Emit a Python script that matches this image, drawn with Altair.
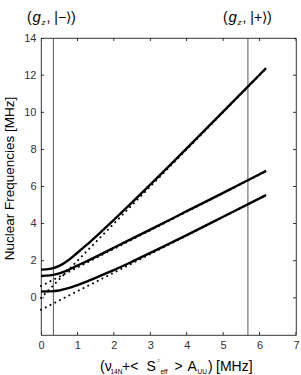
import altair as alt
import pandas as pd

# ---------------- data ----------------
x_vals = [0.0, 0.25, 0.5, 0.75, 1.0, 1.25, 1.5, 1.75, 2.0, 2.5, 3.0, 3.5, 4.0, 5.0, 6.0, 6.18]
upper_solid = [1.52, 1.56, 1.72, 2.03, 2.43, 2.85, 3.29, 3.74, 4.20, 5.14, 6.10, 7.07, 8.05, 10.03, 12.02, 12.38]
middle_solid = [1.18, 1.21, 1.32, 1.51, 1.74, 1.97, 2.21, 2.45, 2.70, 3.19, 3.68, 4.17, 4.67, 5.66, 6.66, 6.84]
lower_solid = [0.34, 0.35, 0.40, 0.52, 0.69, 0.88, 1.08, 1.29, 1.50, 1.95, 2.42, 2.90, 3.38, 4.37, 5.36, 5.54]

dot_x = [0.0, 6.18]
upper_dotted = [0.0, 12.36]
middle_dotted = [0.64, 6.82]
lower_dotted = [-0.64, 5.54]

marker_x = [0.34, 5.68]
marker_labels = ["|−⟩)", "|+⟩)"]

x_ticks = [0, 1, 2, 3, 4, 5, 6, 7]
y_ticks = [0, 2, 4, 6, 8, 10, 12, 14]
x_domain = [0, 7]
y_domain = [-2, 14]

y_title = "Nuclear Frequencies [MHz]"

# ---------------- layout ----------------
W, H = 255, 297
PL, PT, PR, PB = 41, 38, 5, 40
FONT = "Liberation Sans"

xs = alt.Scale(domain=x_domain, nice=False, zero=False)
ys = alt.Scale(domain=y_domain, nice=False, zero=False)

x_axis = alt.Axis(values=x_ticks, title=None, grid=False, ticks=False, domain=False,
                  labelFont=FONT, labelFontSize=11, labelColor="#333", labelPadding=4,
                  labelFlush=False)
y_axis = alt.Axis(values=y_ticks, title=None, grid=False, ticks=False, domain=False,
                  labelFont=FONT, labelFontSize=11, labelColor="#333", labelPadding=5,
                  labelFlush=False)


def X(field):
    return alt.X(field, scale=xs, axis=x_axis)


def Y(field):
    return alt.Y(field, scale=ys, axis=y_axis)


solid_df = pd.DataFrame({
    "x": x_vals * 3,
    "y": upper_solid + middle_solid + lower_solid,
    "curve": ["upper"] * len(x_vals) + ["middle"] * len(x_vals) + ["lower"] * len(x_vals),
})
dotted_df = pd.DataFrame({
    "x": dot_x * 3,
    "y": upper_dotted + middle_dotted + lower_dotted,
    "curve": ["upper"] * 2 + ["middle"] * 2 + ["lower"] * 2,
})

base_axes = alt.Chart(pd.DataFrame({"x": [x_domain[0]], "y": [y_domain[0]]})).mark_point(
    opacity=0
).encode(x=X("x:Q"), y=Y("y:Q"))

markers = alt.Chart(pd.DataFrame({"x": marker_x})).mark_rule(
    color="#444", strokeWidth=0.9
).encode(x=X("x:Q"))

dotted = alt.Chart(dotted_df).mark_line(
    color="black", strokeWidth=2.0, strokeDash=[0.1, 5.2], strokeCap="round"
).encode(x=X("x:Q"), y=Y("y:Q"), detail="curve:N")

solid = alt.Chart(solid_df).mark_line(
    color="black", strokeWidth=2.4, interpolate="monotone"
).encode(x=X("x:Q"), y=Y("y:Q"), detail="curve:N")

# inward ticks (MATLAB style) on all four sides, clipped to the box
xt_df = pd.DataFrame({"x": x_ticks, "lo": [y_domain[0]] * len(x_ticks), "hi": [y_domain[1]] * len(x_ticks)})
yt_df = pd.DataFrame({"y": y_ticks, "lo": [x_domain[0]] * len(y_ticks), "hi": [x_domain[1]] * len(y_ticks)})
tick_layers = []
for col in ["lo", "hi"]:
    tick_layers.append(alt.Chart(xt_df).mark_tick(
        orient="vertical", size=6, thickness=0.8, color="black", clip=True, opacity=1
    ).encode(x=X("x:Q"), y=Y(f"{col}:Q")))
    tick_layers.append(alt.Chart(yt_df).mark_tick(
        orient="horizontal", size=6, thickness=0.8, color="black", clip=True, opacity=1
    ).encode(y=Y("y:Q"), x=X(f"{col}:Q")))


def txt(s, px, py, size, style="normal", color="black", angle=0, align="left", baseline="alphabetic"):
    kw = dict(font=FONT, fontSize=size, fontStyle=style, color=color, align=align, baseline=baseline)
    if angle:
        kw["angle"] = angle
    return alt.Chart(pd.DataFrame({"t": [s]})).mark_text(**kw).encode(
        text="t:N", x=alt.value(px - PL), y=alt.value(py - PT)
    )


texts = []
# top state labels
for base, lab in zip([27, 223], marker_labels):
    texts.append(txt("(", base, 22, 14))
    texts.append(txt("g", base + 5.5, 22, 15, style="italic"))
    texts.append(txt("z", base + 14.5, 25, 8, style="italic"))
    texts.append(txt(", " + lab, base + 19.5, 22, 14))

# x-axis title built from pieces (sub/superscripts)
MB, SB = 371, 374
texts += [
    txt("(ν", 100, MB, 14),
    txt("14N", 110.5, SB, 6.5),
    txt("+<", 122, MB, 14),
    txt("S", 146.5, MB, 14),
    txt("±", 157, 362, 6, color="#999"),
    txt("eff", 160.5, SB, 6.5),
    txt(">", 174.5, MB, 14),
    txt("A", 187.5, MB, 14),
    txt("UU", 197.5, SB, 6.5),
    txt(")", 208, MB, 14),
    txt("[MHz]", 216, MB, 14),
]
# y-axis title
texts.append(txt(y_title, 10, 178.5, 13.5, angle=270, align="center", baseline="middle"))

chart = alt.layer(base_axes, markers, dotted, solid, *tick_layers, *texts).properties(
    width=W, height=H,
    padding={"left": PL, "top": PT, "right": PR, "bottom": PB},
    autosize=alt.AutoSizeParams(type="none"),
    background="white",
).configure_view(stroke="black", strokeWidth=0.8)

chart.save("out.html", embed_options={"renderer": "svg", "actions": False})
